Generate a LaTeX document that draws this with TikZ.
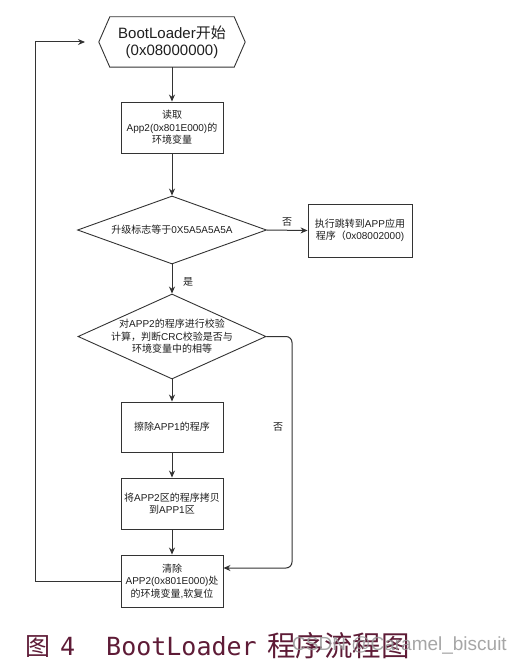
\documentclass[tikz,border=0pt]{standalone}
\usepackage{fontspec}
\setmainfont{Liberation Sans}
\newfontfamily\cjk{Noto Sans CJK SC}
\newfontfamily\capmono{DejaVu Sans Mono}
\usetikzlibrary{arrows.meta,shapes.geometric}
\newcommand\zh[1]{{\cjk #1}}
\definecolor{linec}{RGB}{51,51,51}
\definecolor{txtc}{RGB}{30,30,30}
\definecolor{capc}{RGB}{94,27,54}
\definecolor{wmc}{RGB}{150,150,150}
\tikzset{
  box/.style={draw=linec, line width=0.9pt, minimum width=102pt, minimum height=51pt,
    inner sep=1pt, align=center, text=txtc, font=\fontsize{10}{12.5}\selectfont},
  dia/.style={diamond, draw=linec, line width=0.9pt, inner sep=0pt},
  dtext/.style={align=center, text=txtc, inner sep=0pt, font=\fontsize{10}{12.5}\selectfont},
  arr/.style={draw=linec, line width=1pt, -{Stealth[length=7pt,width=6pt]}},
  lab/.style={text=txtc, inner sep=0pt, font=\fontsize{10}{12}\selectfont\cjk},
  capzh/.style={text=capc, inner sep=0pt, anchor=base west},
}
\begin{document}
\begin{tikzpicture}[x=1pt,y=-1pt]
\useasboundingbox (0,0) rectangle (521,661);
% start hexagon
\node[minimum width=146pt, minimum height=50pt, inner sep=0pt, align=center, text=txtc,
  font=\fontsize{15}{17}\selectfont] (start) at (172,42) {BootLoader\zh{开始}\\(0x08000000)};
\draw[linec, line width=0.9pt] (start.west) -- ([xshift=11pt]start.north west) -- ([xshift=-11pt]start.north east)
  -- (start.east) -- ([xshift=-11pt]start.south east) -- ([xshift=11pt]start.south west) -- cycle;
% read
\node[box] (read) at (172,127.5) {\zh{读取}\\App2(0x801E000)\zh{的}\\\zh{环境变量}};
% diamond 1
\node[dia, minimum width=189pt, minimum height=68pt] (d1) at (172,230) {};
\node[dtext] (d1t) at (d1.center) {\zh{升级标志等于}0X5A5A5A5A};
% jump
\node[box, minimum width=104pt, minimum height=53pt, inner sep=2pt] (jump) at (360,230.5)
  {\zh{执行跳转到}APP\zh{应用}\\\zh{程序（}0x08002000)};
% diamond 2
\node[dia, minimum width=188pt, minimum height=85pt] (d2) at (172,336.5) {};
\node[dtext] (d2t) at (d2.center) {\zh{对}APP2\zh{的程序进行校验}\\\zh{计算，判断}CRC\zh{校验是否与}\\\zh{环境变量中的相等}};
% erase
\node[box, minimum height=50pt] (erase) at (172,427) {\zh{擦除}APP1\zh{的程序}};
% copy
\node[box] (copy) at (172,503.5) {\zh{将}APP2\zh{区的程序拷贝}\\\zh{到}APP1\zh{区}};
% clear
\node[box, minimum height=52pt] (clear) at (172,581) {\zh{清除}\\APP2(0x801E000)\zh{处}\\\zh{的环境变量}{,}\zh{软复位}};
% connectors
\draw[arr] (start.south) -- (read.north);
\draw[arr] (read.south) -- (d1.north);
\draw[arr] (d1.east) -- (jump.west);
\node[lab] (no1) at (287,222) {否};
\draw[arr] (d1.south) -- (d2.north);
\node[lab] (yes1) at (188,282) {是};
\draw[arr] (d2.south) -- (erase.north);
\draw[arr] (erase.south) -- (copy.north);
\draw[arr] (copy.south) -- (clear.north);
\coordinate (rc) at (292,336.5);
\draw[arr, rounded corners=6pt] (d2.east) -- (rc) -- (rc |- 0,568) -- ([yshift=13pt]clear.east);
\node[lab] (no2) at (278,427) {否};
\coordinate (loopend) at (85,42);
\coordinate (lx) at (35,0);
\draw[arr] (clear.west) -- (lx |- clear.west) -- (lx |- loopend) -- (loopend);
% caption
\node[capzh, font=\fontsize{25}{25}\selectfont\cjk] (c1) at (25,655) {图};
\node[capzh, font=\fontsize{25}{25}\selectfont\capmono] (c2) at (60,655) {4};
\node[capzh, font=\fontsize{25}{25}\selectfont\capmono] (c3) at (106,655) {BootLoader};
\node[capzh, font=\fontsize{28.5}{28.5}\selectfont\cjk] (c4) at (267,656) {程序流程图};
\node[text=wmc, opacity=0.85, inner sep=0pt, anchor=base west, font=\fontsize{19}{19}\selectfont] (wm) at (292,650) {CSDN @Caramel\_biscuit};
\end{tikzpicture}
\end{document}
